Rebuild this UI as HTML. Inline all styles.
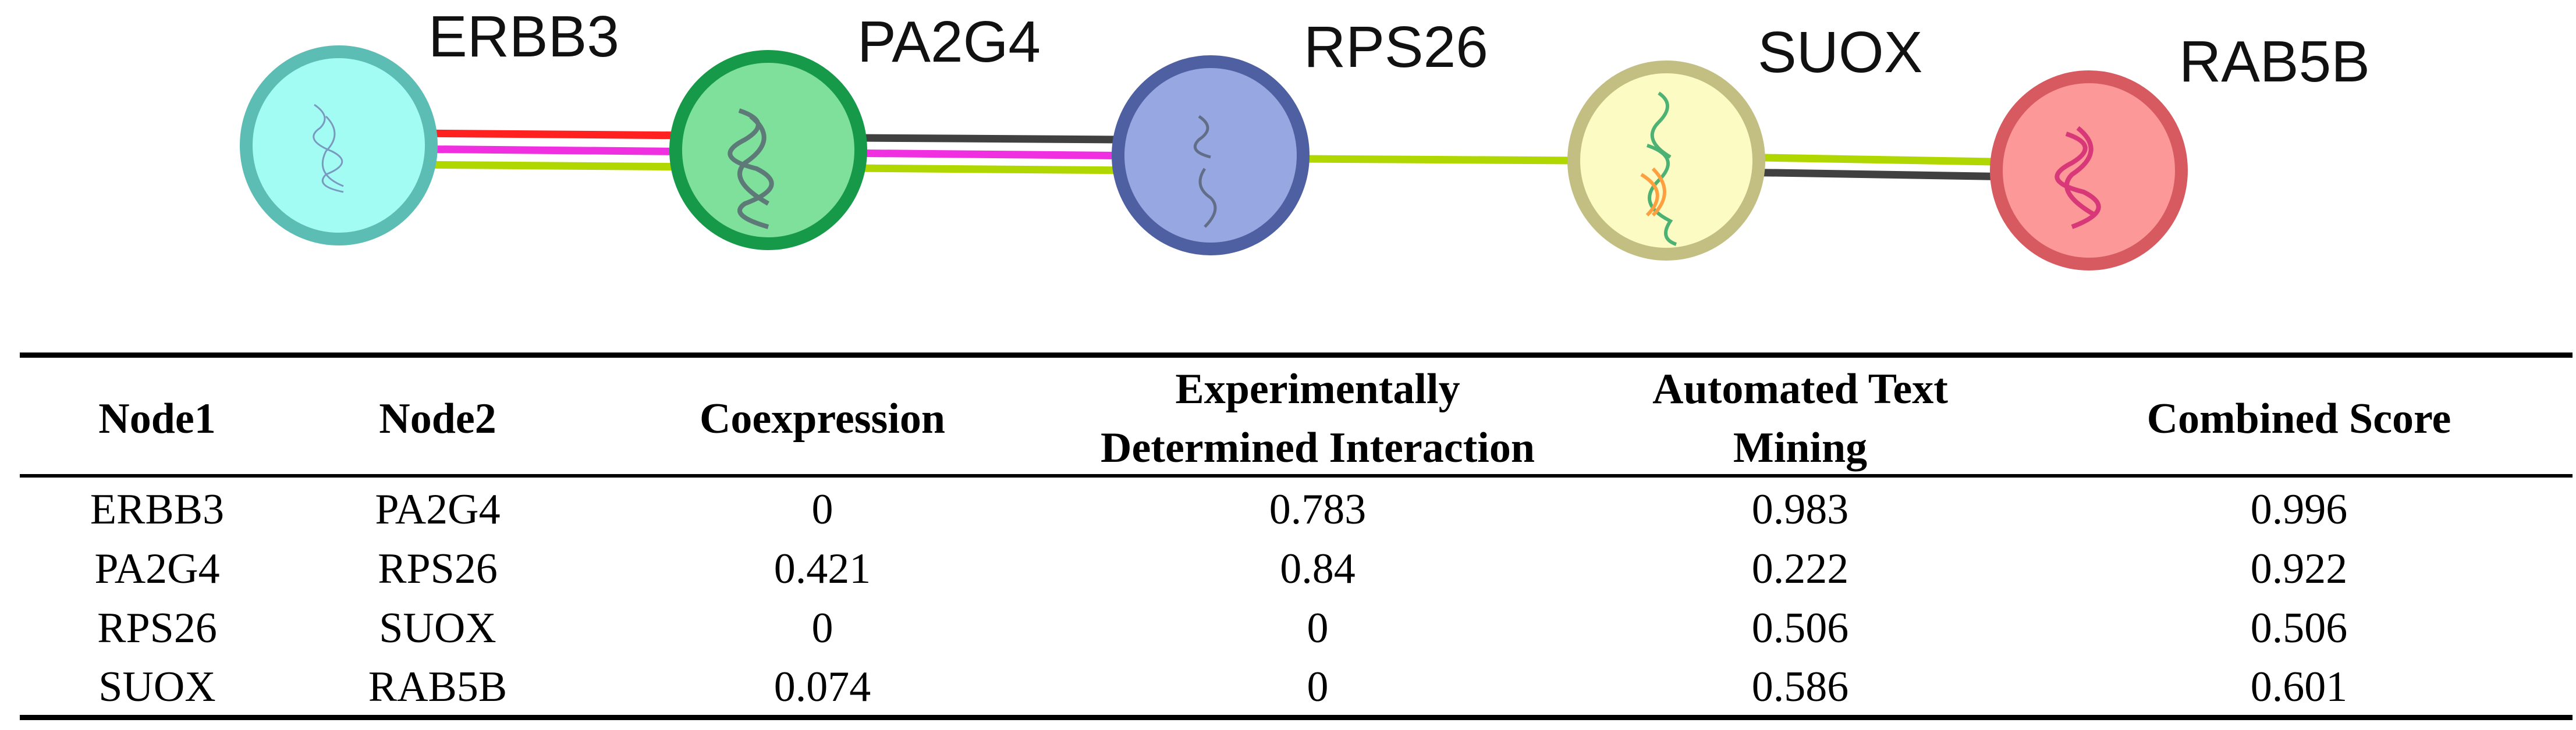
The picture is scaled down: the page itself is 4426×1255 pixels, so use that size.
<!DOCTYPE html>
<html><head><meta charset="utf-8"><style>
html,body{margin:0;padding:0;background:#fff;}
svg{display:block;}
.lab{font-family:"Liberation Sans",sans-serif;font-size:100px;fill:#111;}
.h{font-family:"Liberation Serif",serif;font-size:74px;font-weight:bold;fill:#000;text-anchor:middle;}
.c{font-family:"Liberation Serif",serif;font-size:74px;fill:#000;text-anchor:middle;}
</style></head><body>
<svg width="4426" height="1255" viewBox="0 0 4426 1255" xmlns="http://www.w3.org/2000/svg">
<rect width="4426" height="1255" fill="#fff"/>
<!-- edges -->
<g stroke-width="13" fill="none">
<line x1="582" y1="228" x2="1320" y2="234" stroke="#ff2020"/>
<line x1="1320" y1="236" x2="2080" y2="241" stroke="#404040"/>
<line x1="582" y1="255" x2="2080" y2="269" stroke="#f030e0"/>
<line x1="582" y1="282" x2="2080" y2="294" stroke="#b0d800"/>
<line x1="2080" y1="272" x2="2863" y2="277" stroke="#b0d800"/>
<line x1="2863" y1="268" x2="3589" y2="281" stroke="#b0d800"/>
<line x1="2863" y1="294" x2="3589" y2="306" stroke="#404040"/>
</g>
<!-- nodes -->
<g stroke-width="22">
<ellipse cx="582" cy="250" rx="159" ry="161" fill="#a2fcf4" stroke="#5bbdb4"/>
<ellipse cx="1320" cy="258" rx="159" ry="161" fill="#7fe09c" stroke="#169a4a"/>
<ellipse cx="2080" cy="267" rx="159" ry="161" fill="#97a7e2" stroke="#4f60a2"/>
<ellipse cx="2863" cy="276" rx="159" ry="161" fill="#fdfbc4" stroke="#c3bf82"/>
<ellipse cx="3589" cy="293" rx="159" ry="161" fill="#fc9898" stroke="#d65a60"/>
</g>
<!-- protein scribbles -->
<g fill="none" stroke-width="3" opacity="0.8">
<path d="M540 180 q30 20 10 40 q-30 20 20 40 q40 20 -10 40 q-20 20 30 30 M560 200 q30 30 0 60 q-20 40 30 60" stroke="#7080b0"/>
<path d="M1270 190 q60 20 10 50 q-60 30 20 50 q60 30 -20 60 q-30 20 40 40 M1290 200 q50 40 -10 80 q-30 30 40 70" stroke="#556070" stroke-width="8"/>
<path d="M2060 200 q30 20 0 40 q-20 20 20 30 M2070 290 q-20 30 10 50 q20 20 -10 50" stroke="#556070" stroke-width="5"/>
<path d="M2850 160 q30 20 0 50 q-30 30 20 60 M2830 250 q60 20 20 60 q-40 40 20 70 q-20 30 10 40" stroke="#20a060" stroke-width="6"/>
<path d="M2820 300 q50 30 10 70 M2840 290 q40 40 0 80" stroke="#ff8a20" stroke-width="6"/>
<path d="M3550 230 q60 20 10 50 q-60 30 20 50 q60 30 -20 60 M3570 220 q50 40 -10 80 q-30 30 40 70" stroke="#d02070" stroke-width="8"/>
</g>
<!-- labels -->
<text class="lab" x="736" y="97">ERBB3</text>
<text class="lab" x="1473" y="106">PA2G4</text>
<text class="lab" x="2240" y="115">RPS26</text>
<text class="lab" x="3020" y="124">SUOX</text>
<text class="lab" x="3744" y="140">RAB5B</text>
<!-- table rules -->
<rect x="34" y="606" width="4386" height="9" fill="#000"/>
<rect x="34" y="815" width="4386" height="6" fill="#000"/>
<rect x="34" y="1229" width="4386" height="9" fill="#000"/>
<!-- header -->
<text class="h" x="270" y="744">Node1</text>
<text class="h" x="752" y="744">Node2</text>
<text class="h" x="1413" y="744">Coexpression</text>
<text class="h" x="2264" y="693">Experimentally</text>
<text class="h" x="2264" y="794">Determined Interaction</text>
<text class="h" x="3093" y="693">Automated Text</text>
<text class="h" x="3093" y="794">Mining</text>
<text class="h" x="3950" y="744">Combined Score</text>
<!-- rows -->
<g class="c">
<text class="c" x="270" y="900">ERBB3</text><text class="c" x="752" y="900">PA2G4</text><text class="c" x="1413" y="900">0</text><text class="c" x="2264" y="900">0.783</text><text class="c" x="3093" y="900">0.983</text><text class="c" x="3950" y="900">0.996</text>
<text class="c" x="270" y="1002">PA2G4</text><text class="c" x="752" y="1002">RPS26</text><text class="c" x="1413" y="1002">0.421</text><text class="c" x="2264" y="1002">0.84</text><text class="c" x="3093" y="1002">0.222</text><text class="c" x="3950" y="1002">0.922</text>
<text class="c" x="270" y="1104">RPS26</text><text class="c" x="752" y="1104">SUOX</text><text class="c" x="1413" y="1104">0</text><text class="c" x="2264" y="1104">0</text><text class="c" x="3093" y="1104">0.506</text><text class="c" x="3950" y="1104">0.506</text>
<text class="c" x="270" y="1205">SUOX</text><text class="c" x="752" y="1205">RAB5B</text><text class="c" x="1413" y="1205">0.074</text><text class="c" x="2264" y="1205">0</text><text class="c" x="3093" y="1205">0.586</text><text class="c" x="3950" y="1205">0.601</text>
</g>
</svg>
</body></html>
